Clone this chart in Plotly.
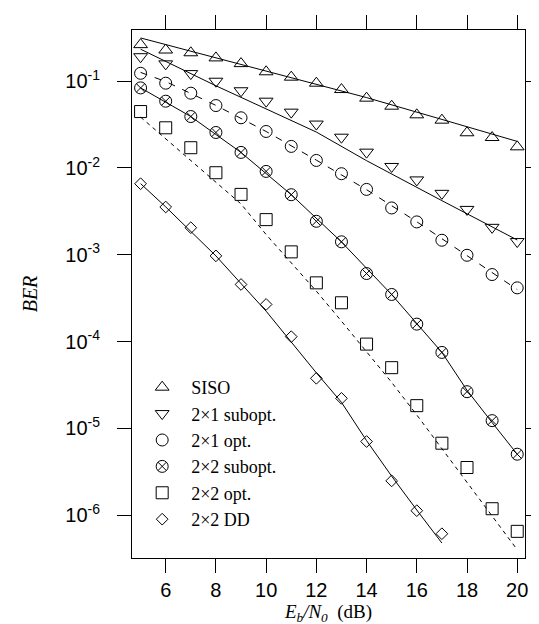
import plotly.graph_objects as go

# ---------------- data ----------------
EBN0 = list(range(5, 21))          # Eb/N0 in dB, simulated points
DD_EBN0 = list(range(5, 18))

SISO = [0.263, 0.228, 0.212, 0.185, 0.159, 0.128, 0.111, 0.0946, 0.0799,
        0.0636, 0.0514, 0.0409, 0.0355, 0.0254, 0.0224, 0.0175]
SUB21 = [0.191, 0.158, 0.122, 0.0997, 0.0774, 0.0587, 0.0439, 0.0320, 0.0226,
         0.0152, 0.0104, 0.00728, 0.00510, 0.00333, 0.00207, 0.00142]
OPT21 = [0.123, 0.0946, 0.0726, 0.0523, 0.0378, 0.0263, 0.0177, 0.0122,
         0.00858, 0.00566, 0.00346, 0.00239, 0.00147, 0.000987, 0.000592, 0.000416]
SUB22 = [0.0835, 0.0587, 0.0391, 0.0256, 0.0151, 0.00912, 0.00492, 0.00243,
         0.00141, 0.000608, 0.000349, 0.000159, 7.51e-5, 2.65e-5, 1.23e-5, 5.05e-6]
OPT22 = [0.0446, 0.0290, 0.0171, 0.00881, 0.00496, 0.00254, 0.00108, 0.000475,
         0.000280, 9.36e-5, 5.01e-5, 1.83e-5, 6.76e-6, 3.55e-6, 1.19e-6, 6.53e-7]
DD22 = [0.00658, 0.00355, 0.00205, 0.000971, 0.000455, 0.000268, 0.000114,
        3.78e-5, 2.22e-5, 7.07e-6, 2.49e-6, 1.13e-6, 6.13e-7]

# analytical curves
SISO_TH_X = [5, 8, 11, 14, 17, 20]
SISO_TH = [0.314, 0.185, 0.1096, 0.0646, 0.0362, 0.0202]
SUB21_TH_X = [5, 8, 12, 14, 17, 20]
SUB21_TH = [0.233, 0.0883, 0.0259, 0.01213, 0.0042, 0.00148]
OPT21_TH_X = [5, 6, 8, 10, 12, 14, 16, 18, 20]
OPT21_TH = [0.126, 0.0989, 0.0525, 0.0263, 0.0123, 0.00562, 0.0024, 0.000977, 0.000398]
SUB22_TH_X = [5, 7, 9, 11, 13, 15, 17, 18, 19, 20]
SUB22_TH = [0.0836, 0.0391, 0.01507, 0.00492, 0.001406, 0.000348, 7.52e-5,
            2.75e-5, 1.17e-5, 5.05e-6]
OPT22_TH_X = [5, 7, 9, 10, 12, 13, 15, 16, 18, 20]
OPT22_TH = [0.0385, 0.01225, 0.00385, 0.00171, 0.000381, 0.000172, 3.39e-5,
            1.43e-5, 2.43e-6, 4.01e-7]
DD22_TH_X = [5, 6, 8, 10, 12, 13, 14, 15, 16, 17]
DD22_TH = [0.0066, 0.00356, 0.00097, 0.000224, 4.37e-5, 2.0e-5, 7.24e-6,
           2.82e-6, 1.15e-6, 4.79e-7]

NAMES = ["SISO", "2×1 subopt.", "2×1 opt.", "2×2 subopt.", "2×2 opt.", "2×2 DD"]
X_TICKS = [6, 8, 10, 12, 14, 16, 18, 20]
Y_TICKS = [1e-6, 1e-5, 1e-4, 1e-3, 1e-2, 1e-1]
Y_TICK_LABELS = ["10<sup>-6</sup>", "10<sup>-5</sup>", "10<sup>-4</sup>",
                 "10<sup>-3</sup>", "10<sup>-2</sup>", "10<sup>-1</sup>"]

# ---------------- figure ----------------
fig = go.Figure()

curves = [
    (SISO_TH_X, SISO_TH, "solid"),
    (SUB21_TH_X, SUB21_TH, "solid"),
    (OPT21_TH_X, OPT21_TH, "7px,8px"),
    (SUB22_TH_X, SUB22_TH, "solid"),
    (OPT22_TH_X, OPT22_TH, "4px,4px"),
    (DD22_TH_X, DD22_TH, "solid"),
]
for xs, ys, dash in curves:
    fig.add_trace(go.Scatter(x=xs, y=ys, mode="lines", showlegend=False,
                             hoverinfo="skip",
                             line=dict(color="black", width=1, dash=dash)))

series = [
    (EBN0, SISO, "triangle-up-open", 12),
    (EBN0, SUB21, "triangle-down-open", 12),
    (EBN0, OPT21, "circle-open", 12),
    (EBN0, SUB22, "circle-x-open", 12),
    (EBN0, OPT22, "square-open", 12),
    (DD_EBN0, DD22, "diamond-open", 9),
]
for name, (xs, ys, sym, sz) in zip(NAMES, series):
    fig.add_trace(go.Scatter(x=xs, y=ys, mode="markers", name=name,
                             marker=dict(symbol=sym, size=sz, color="black",
                                         line=dict(color="black", width=1))))

axis_common = dict(showline=True, linecolor="black", linewidth=1,
                   mirror="ticks", ticks="outside", ticklen=14, tickwidth=1,
                   tickcolor="black", showgrid=False, zeroline=False,
                   tickfont=dict(family="Liberation Sans, Arial", size=20,
                                 color="black"))

fig.update_xaxes(range=[4.658, 20.31], tickvals=X_TICKS,
                 title=dict(text="<i>E<sub>b</sub>/N<sub>0</sub></i>\u00a0\u00a0(dB)",
                            font=dict(family="Liberation Serif, Times New Roman",
                                      size=19, color="black"),
                            standoff=2),
                 **axis_common)
fig.update_yaxes(type="log", range=[-6.492, -0.4115], tickvals=Y_TICKS,
                 ticktext=Y_TICK_LABELS, ticklabelstandoff=13,
                 title=dict(text="<i>BER</i>",
                            font=dict(family="Liberation Serif, Times New Roman",
                                      size=20, color="black"),
                            standoff=22),
                 **axis_common)

fig.update_layout(
    width=539, height=624,
    margin=dict(l=124, r=7, t=21, b=74, pad=0),
    paper_bgcolor="white", plot_bgcolor="white",
    legend=dict(x=0.003, y=0.358, xanchor="left", yanchor="top",
                bgcolor="rgba(0,0,0,0)", borderwidth=0, itemwidth=48,
                tracegroupgap=0,
                font=dict(family="Liberation Serif, Times New Roman", size=18,
                          color="black")),
)

fig.write_html("out.html")
